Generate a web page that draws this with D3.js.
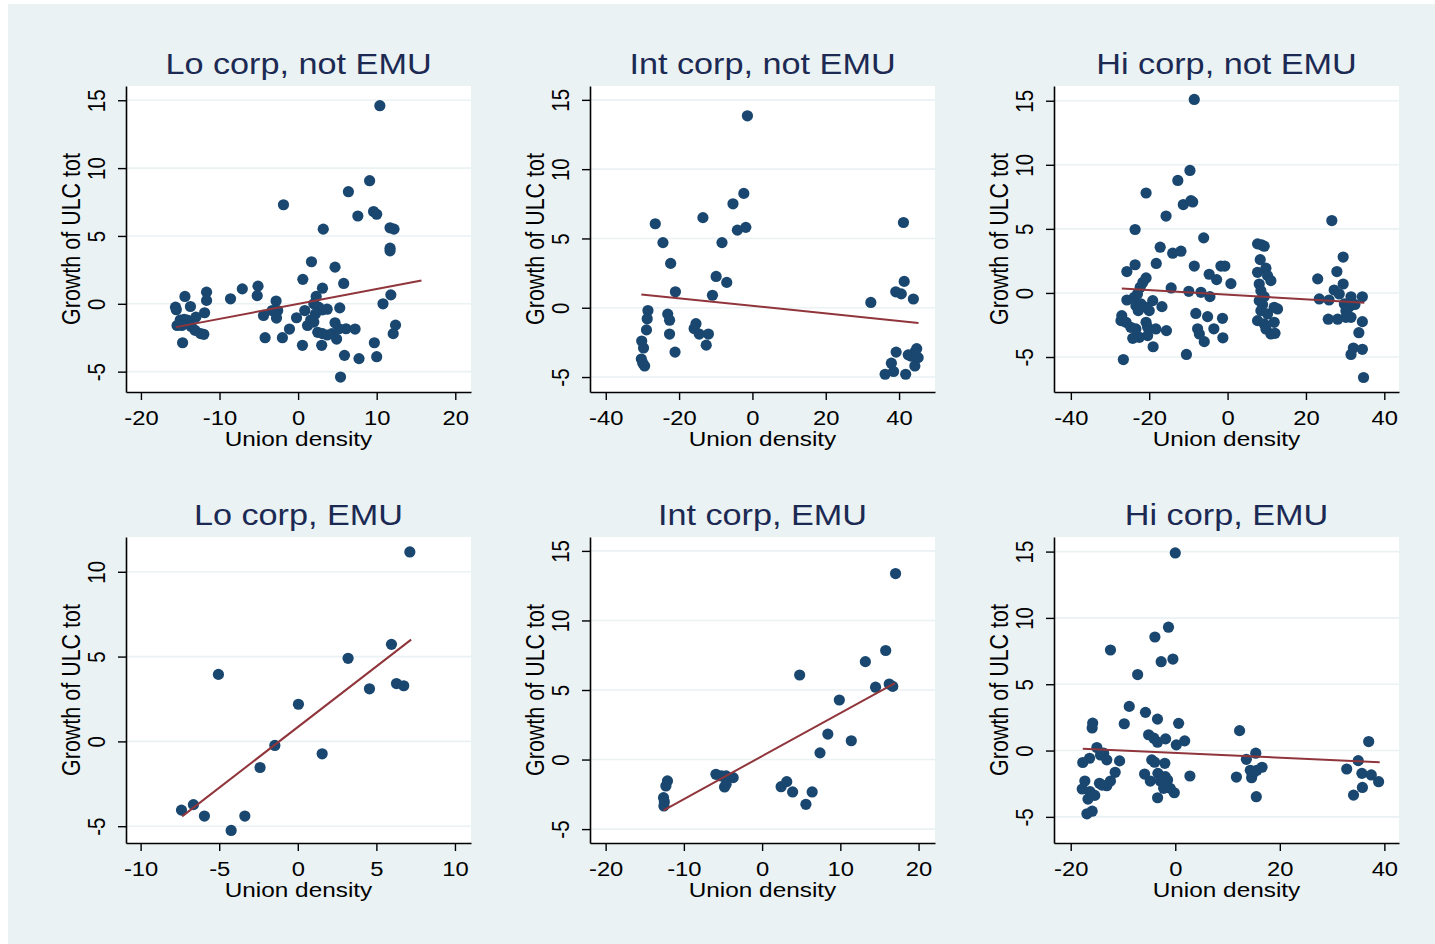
<!DOCTYPE html>
<html>
<head>
<meta charset="utf-8">
<script src="https://cdn.jsdelivr.net/npm/d3@7"></script>
<style>
  body { margin: 0; background: #fff; }
  svg text { font-family: "Liberation Sans", Arial, sans-serif; }
</style>
</head>
<body>
<script>
// panel titles
const titles = ["Lo corp, not EMU", "Int corp, not EMU", "Hi corp, not EMU",
                "Lo corp, EMU", "Int corp, EMU", "Hi corp, EMU"];
const xLabel = "Union density";
const yLabel = "Growth of ULC tot";

// scatter points [union density, growth of ULC tot]
const loNotEmu = [
  [10.4,14.6],[9.1,9.07],[6.4,8.26],[-1.86,7.3],[7.6,6.47],[9.6,6.8],[10.0,6.6],[3.2,5.5],
  [11.7,5.6],[12.2,5.5],[11.7,4.1],[11.7,3.9],[1.7,3.1],[4.7,2.7],[0.6,1.8],[5.8,1.5],
  [3.1,1.15],[11.8,0.66],[10.8,0.0],[12.4,-1.57],[12.1,-2.2],[9.7,-2.87],[10.0,-3.9],
  [7.75,-4.04],[5.9,-3.8],[5.4,-5.4],
  [-14.4,0.54],[-11.65,0.86],[-11.65,0.25],[-15.6,-0.25],[-15.5,-0.44],[-13.7,-0.2],
  [-11.9,-0.66],[-13.0,-0.98],[-15.0,-1.2],[-14.5,-1.15],[-14.1,-1.2],[-15.4,-1.6],
  [-14.8,-1.6],[-13.6,-1.67],[-13.1,-1.96],[-12.4,-2.2],[-12.0,-2.25],[-14.7,-2.87],
  [-8.6,0.37],[-7.1,1.1],[-5.1,1.3],[-5.2,0.6],[-2.8,0.2],[-2.6,-0.5],[-3.3,-0.5],
  [-4.4,-0.86],[-2.75,-1.05],[-4.2,-2.5],[-2.0,-2.5],[-1.1,-1.86],[-0.2,-1.03],
  [0.55,-3.06],[0.85,-0.5],[1.2,-1.6],[2.3,0.54],
  [2.0,0.0],[2.6,-0.25],[3.1,-0.45],[3.7,-0.4],[2.2,-0.75],[1.6,-1.2],[2.0,-1.35],
  [2.5,-2.1],[3.1,-2.2],[3.7,-2.3],[4.3,-2.2],[4.9,-2.6],[3.0,-3.06],[4.7,-1.4],
  [5.2,-1.84],[6.1,-1.84],[7.25,-1.86],[5.3,-0.3]
];
const intNotEmu = [
  [-1.36,13.85],[-2.35,8.25],[-5.3,7.5],[-13.5,6.5],[-26.5,6.06],[-4.1,5.6],[-1.8,5.8],
  [-24.4,4.7],[-8.3,4.7],[-22.3,3.2],[-9.9,2.26],[-7.0,1.83],[-21.0,1.15],[-10.9,0.9],
  [-28.5,-0.2],[-28.7,-0.8],[-28.9,-1.6],[-30.2,-2.4],[-29.7,-2.9],[-30.3,-3.7],
  [-29.9,-4.0],[-29.4,-4.2],
  [-23.1,-0.46],[-22.6,-0.9],[-22.6,-1.9],[-21.1,-3.2],[-15.4,-1.15],[-15.9,-1.5],
  [-14.5,-1.9],[-12.0,-1.9],[-12.6,-2.7],
  [32.3,0.38],[41.2,6.15],[41.4,1.9],[39.1,1.15],[40.6,1.0],[43.9,0.63],[39.2,-3.2],
  [37.9,-4.0],[36.2,-4.8],[38.5,-4.6],[41.8,-4.8],
  [42.5,-3.4],[44.3,-3.2],[44.8,-2.95],[45.2,-3.6],[44.3,-4.2],[43.4,-3.5]
];
const hiNotEmu = [
  [-8.5,15.1],[-9.6,9.56],[-12.7,8.78],[-20.8,7.8],[-11.3,6.9],[-9.35,7.2],[-8.9,7.1],
  [-15.7,6.0],[-23.6,4.95],[-6.1,4.3],[-17.2,3.57],[-14.0,3.1],[-11.9,3.26],[-23.6,2.2],
  [-18.2,2.3],[-25.7,1.67],[-8.5,2.1],[-1.7,2.1],[-0.7,2.1],[-4.7,1.46],[-2.8,1.04],
  [0.85,0.73],[-20.8,1.17],[-21.6,0.83],[-22.3,0.44],[-14.4,0.39],[-9.9,0.13],[-6.8,0.05],
  [-4.5,-0.29],
  [-25.7,-0.55],[-23.8,-0.34],[-23.0,-0.08],[-19.1,-0.6],[-23.4,-0.99],[-22.1,-0.86],
  [-20.8,-1.12],[-20.0,-1.38],[-22.8,-1.38],[-16.75,-1.07],[-27.0,-1.77],[-27.2,-2.16],
  [-25.9,-2.29],[-24.7,-2.68],[-23.4,-2.81],[-24.2,-3.54],[-22.5,-3.46],[-20.8,-2.29],
  [-20.4,-2.68],[-20.4,-3.33],[-18.3,-2.81],[-15.6,-2.94],
  [-19.0,-4.2],[-26.6,-5.2],[-10.5,-4.8],[-8.1,-1.6],[-5.1,-1.85],[-1.3,-1.98],
  [-7.65,-2.8],[-7.2,-3.2],[-5.95,-3.8],[-3.5,-2.8],[-1.2,-3.5],
  [7.65,3.83],[8.67,3.75],[9.35,3.65],[8.33,2.6],[9.78,1.93],[7.65,1.61],[10.2,1.35],
  [11.05,0.96],[8.08,0.7],[8.5,0.18],[9.35,-0.29],[8.08,-0.6],[8.93,-0.91],[11.9,-1.12],
  [12.75,-1.25],[8.5,-1.38],[10.2,-1.64],[7.65,-2.16],[9.35,-2.42],[11.9,-2.29],
  [9.78,-2.81],[11.05,-3.2],[12.1,-3.15],
  [23.0,1.1],[26.6,5.65],[29.5,2.8],[27.9,1.67],[29.5,0.7],[27.2,0.23],[28.5,-0.08],
  [31.5,-0.3],[34.4,-0.3],[23.4,-0.47],[25.9,-0.55],[29.8,-0.86],[31.0,-1.1],[30.2,-1.4],
  [32.5,-0.9],[25.7,-2.05],[28.1,-2.05],[30.2,-1.9],[31.5,-1.9],[34.4,-2.24],[33.5,-3.1],
  [32.1,-4.3],[31.5,-4.8],[34.4,-4.4],[34.7,-6.6]
];
const loEmu = [
  [7.13,11.17],[5.96,5.72],[3.2,4.9],[-5.05,3.95],[4.56,3.1],[6.28,3.41],[6.74,3.28],
  [0.04,2.19],[-1.46,-0.24],[1.55,-0.73],[-2.4,-1.54],[-7.4,-4.05],[-6.64,-3.73],
  [-5.94,-4.4],[-3.37,-4.4],[-4.24,-5.25]
];
const intEmu = [
  [17.06,13.37],[15.8,7.84],[13.2,7.04],[4.8,6.08],[14.5,5.2],[16.25,5.43],[16.7,5.26],
  [9.87,4.28],[8.4,1.83],[11.4,1.35],[7.4,0.48],[2.43,-1.95],[3.15,-1.59],[3.9,-2.33],
  [6.4,-2.33],[5.6,-3.22],[-5.9,-1.06],[-5.2,-1.18],[-4.6,-1.18],[-3.7,-1.3],[-4.8,-1.97],
  [-4.6,-1.78],[-12.1,-1.54],[-12.3,-1.9],[-12.6,-2.74],[-12.5,-3.03],[-12.55,-3.34]
];
const hiEmu = [
  [0,14.9],[-1.3,9.3],[-3.9,8.56],[-12.4,7.58],[-2.7,6.7],[-0.45,6.9],[-7.2,5.73],
  [-8.8,3.33],[-5.7,2.88],[-3.4,2.37],[-9.76,2.02],[0.64,2.05],[-15.8,2.07],[-15.9,1.7],
  [12.3,1.5],[37.0,0.68],[-5.1,1.19],[-4.1,0.93],[-3.4,0.63],[-1.85,0.88],[0.2,0.43],
  [1.8,0.73],[-15.0,0.23],[-13.7,-0.2],[-14.3,-0.33],[-13.1,-0.7],[-16.4,-0.58],
  [-17.7,-0.9],[-10.65,-0.78],[-4.5,-0.7],[-3.95,-0.88],[-2.0,-0.96],
  [-5.87,-1.77],[-3.32,-1.72],[-1.91,-1.97],[-1.47,-2.22],[-4.78,-2.3],[-2.87,-2.3],
  [-1.72,-2.6],[-2.23,-2.85],[-0.96,-2.85],[-0.19,-3.18],[-3.38,-3.56],
  [2.8,-1.92],[-11.5,-1.64],[-12.4,-2.3],[-13.1,-2.65],[-14.5,-2.47],[-14.0,-2.6],
  [-17.3,-2.3],[-17.8,-2.9],[-16.3,-3.1],[-15.4,-3.38],[-16.7,-3.66],[-15.9,-4.57],
  [-16.9,-4.77],
  [13.6,-0.66],[15.4,-0.2],[14.35,-1.49],[15.0,-1.64],[15.6,-1.49],[16.6,-1.26],
  [14.6,-2.05],[11.7,-2.0],[15.5,-3.48],
  [35.0,-0.76],[32.8,-1.39],[35.7,-1.72],[37.5,-1.84],[38.9,-2.35],[35.8,-2.78],[34.1,-3.36]
];

// fitted lines: two end points each
const fitLoNotEmu  = [[-15.55,-1.72],[15.7,1.72]];
const fitIntNotEmu = [[-30.3,0.96],[45.3,-1.1]];
const fitHiNotEmu  = [[-27.0,0.34],[34.9,-0.76]];
const fitLoEmu     = [[-7.36,-4.42],[7.21,6.0]];
const fitIntEmu    = [[-12.6,-3.65],[16.98,5.5]];
const fitHiEmu     = [[-17.7,0.13],[39.1,-0.88]];

// tick labels
const xTicksA = [-20,-10,0,10,20];
const xTicksB = [-40,-20,0,20,40];
const xTicksC = [-10,-5,0,5,10];
const xTicksD = [-20,0,20,40];
const yTicksA = [-5,0,5,10,15];
const yTicksB = [-5,0,5,10];

const panels = [
  {title: titles[0], pts: loNotEmu,  fit: fitLoNotEmu,  xd: [-21.9,22.0],  yd: [-6.5,16.05], xt: xTicksA, yt: yTicksA},
  {title: titles[1], pts: intNotEmu, fit: fitIntNotEmu, xd: [-44.3,49.8],  yd: [-6.08,16.0], xt: xTicksB, yt: yTicksA},
  {title: titles[2], pts: hiNotEmu,  fit: fitHiNotEmu,  xd: [-44.3,43.75], yd: [-7.73,16.15], xt: xTicksB, yt: yTicksA},
  {title: titles[3], pts: loEmu,     fit: fitLoEmu,     xd: [-10.93,11.02], yd: [-5.99,12.05], xt: xTicksC, yt: yTicksB},
  {title: titles[4], pts: intEmu,    fit: fitIntEmu,    xd: [-22.0,22.1],  yd: [-6.0,16.0],  xt: xTicksA, yt: yTicksA},
  {title: titles[5], pts: hiEmu,     fit: fitHiEmu,     xd: [-23.2,42.8],  yd: [-6.97,16.1], xt: xTicksD, yt: yTicksA}
];

const W = 1435, H = 944;
const colLeft = [126, 590, 1054], pw = 345;
const rowTop = [86, 537], ph = 306;
const sx = 1.16; // picture is a little stretched sideways

const svg = d3.select("body").append("svg")
  .attr("width", W).attr("height", H);

svg.append("rect")
  .attr("x", 8).attr("y", 4)
  .attr("width", W - 8).attr("height", H - 4)
  .attr("fill", "#eaf2f3");

panels.forEach(function(p, i) {
  const left = colLeft[i % 3], top = rowTop[Math.floor(i / 3)];
  const g = svg.append("g").attr("transform", "translate(" + left + "," + top + ")");

  const x = d3.scaleLinear().domain(p.xd).range([0, pw]);
  const y = d3.scaleLinear().domain(p.yd).range([ph, 0]);

  g.append("rect").attr("width", pw).attr("height", ph).attr("fill", "#fff");

  // gridlines
  g.selectAll(".grid").data(p.yt).enter().append("line")
    .attr("x1", 0).attr("x2", pw)
    .attr("y1", d => y(d)).attr("y2", d => y(d))
    .attr("stroke", "#eaf2f3").attr("stroke-width", 1.6);

  // y axis
  const ya = g.append("g").call(d3.axisLeft(y).tickValues(p.yt).tickSize(8).tickSizeOuter(0).tickFormat(d => String(d)));
  ya.select(".domain").attr("stroke", "#000").attr("stroke-width", 1.6);
  ya.selectAll(".tick line").attr("stroke", "#000").attr("stroke-width", 1.4);
  ya.selectAll(".tick text")
    .attr("x", null).attr("dy", null)
    .attr("transform", "translate(-21,0) scale(" + sx + ",1) rotate(-90)")
    .attr("text-anchor", "middle")
    .attr("font-size", 20.5).attr("fill", "#000")
    .style("font-family", "'Liberation Sans', Arial, sans-serif");

  // x axis
  const xa = g.append("g").attr("transform", "translate(0," + ph + ")")
    .call(d3.axisBottom(x).tickValues(p.xt).tickSize(8).tickSizeOuter(0).tickFormat(d => String(d)));
  xa.select(".domain").attr("stroke", "#000").attr("stroke-width", 1.6);
  xa.selectAll(".tick line").attr("stroke", "#000").attr("stroke-width", 1.4);
  xa.selectAll(".tick text")
    .attr("y", null).attr("dy", null)
    .attr("transform", "translate(0,33) scale(" + sx + ",1)")
    .attr("text-anchor", "middle")
    .attr("font-size", 20.5).attr("fill", "#000")
    .style("font-family", "'Liberation Sans', Arial, sans-serif");

  // points
  g.selectAll(".pt").data(p.pts).enter().append("circle")
    .attr("cx", d => x(d[0])).attr("cy", d => y(d[1]))
    .attr("r", 5.6).attr("fill", "#1a476f");

  // fitted line on top of the points
  g.append("line")
    .attr("x1", x(p.fit[0][0])).attr("y1", y(p.fit[0][1]))
    .attr("x2", x(p.fit[1][0])).attr("y2", y(p.fit[1][1]))
    .attr("stroke", "#90353b").attr("stroke-width", 2);

  // titles
  g.append("text")
    .attr("transform", "translate(" + (pw / 2) + ",-12) scale(" + sx + ",1)")
    .attr("text-anchor", "middle")
    .attr("font-size", 29.5).attr("fill", "#1c2a53")
    .text(p.title);

  g.append("text")
    .attr("transform", "translate(" + (pw / 2) + "," + (ph + 54) + ") scale(" + sx + ",1)")
    .attr("text-anchor", "middle")
    .attr("font-size", 21).attr("fill", "#000")
    .text(xLabel);

  g.append("text")
    .attr("transform", "translate(-46," + (ph / 2) + ") scale(" + sx + ",1) rotate(-90)")
    .attr("text-anchor", "middle")
    .attr("font-size", 21.5).attr("fill", "#000")
    .text(yLabel);
});
</script>
</body>
</html>
